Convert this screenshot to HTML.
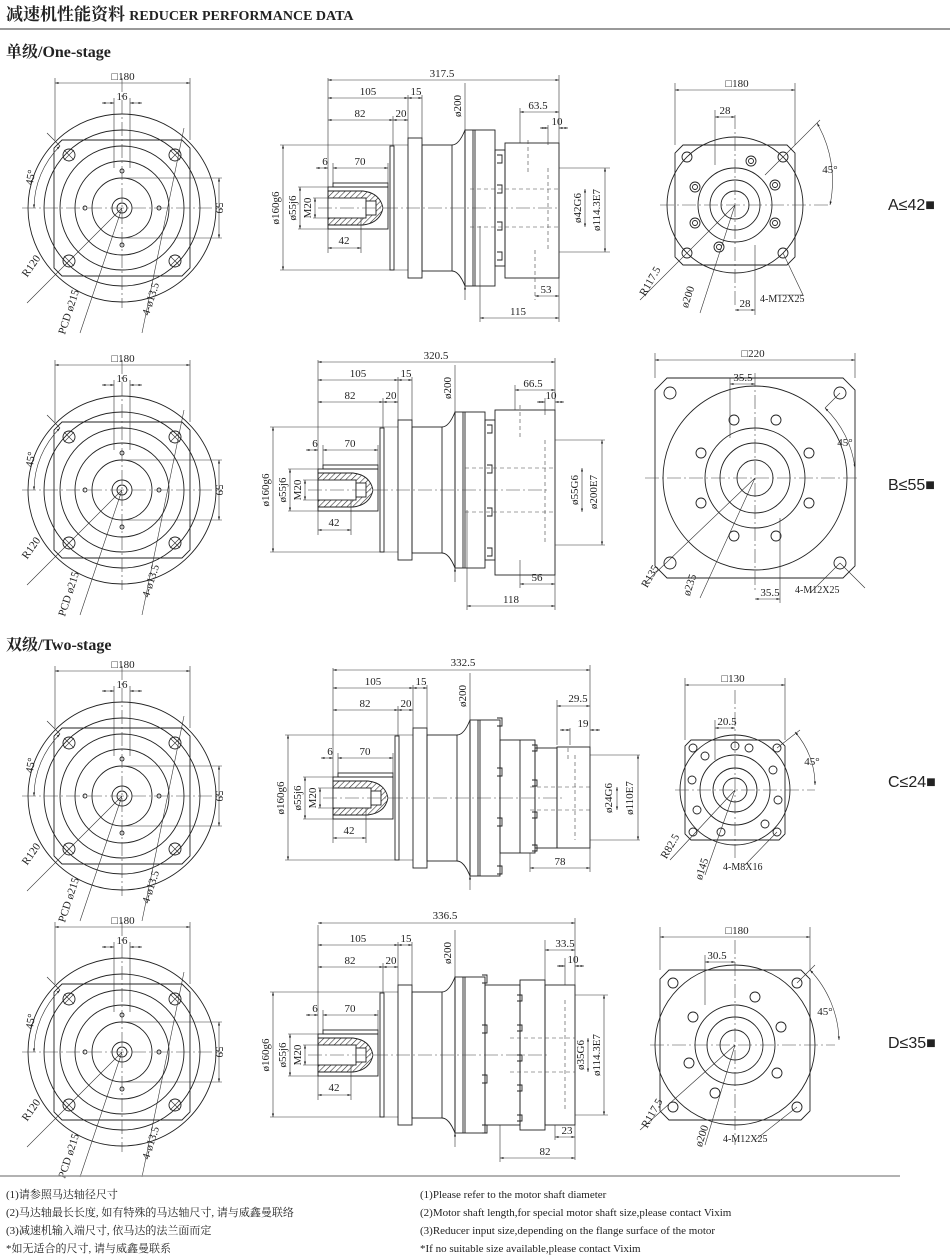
<!DOCTYPE html>
<html><head><meta charset="utf-8"><style>
html,body{margin:0;padding:0;background:#fff}
svg{display:block}
.l{stroke:#222;stroke-width:0.9;fill:none}
.c{stroke:#444;stroke-width:0.6;fill:none;stroke-dasharray:14 3 2 3}
.d{stroke:#444;stroke-width:0.6;fill:none;stroke-dasharray:4 3}
.m{stroke:#333;stroke-width:0.6;fill:none}
.dm{stroke:#333;stroke-width:0.6;fill:none;marker-start:url(#a);marker-end:url(#a)}
text{font-family:"Liberation Serif","Noto Serif CJK SC",serif;font-size:11px;fill:#222}
.t{font-size:11px;text-anchor:middle}
</style></head><body>
<svg width="950" height="1259" viewBox="0 0 950 1259" xmlns="http://www.w3.org/2000/svg">
<defs>
<marker id="a" viewBox="0 0 10 10" refX="10" refY="5" markerWidth="6" markerHeight="6" orient="auto-start-reverse"><path d="M0,2 L10,5 L0,8 z" fill="#222"/></marker>
<pattern id="h" width="4" height="4" patternUnits="userSpaceOnUse" patternTransform="rotate(45)"><line x1="0" y1="0" x2="0" y2="4" stroke="#333" stroke-width="1.2"/></pattern>
<g id="lv">
<path class="l" d="M-60,-68 L60,-68 L68,-60 L68,60 L60,68 L-60,68 L-68,60 L-68,-60 Z"/>
<circle class="l" r="94"/><circle class="l" r="78"/><circle class="l" r="62"/><circle class="l" r="47"/><circle class="l" r="30"/><circle class="l" r="10"/><circle class="l" r="5"/>
<g class="l"><circle cx="-53" cy="-53" r="6"/><circle cx="53" cy="-53" r="6"/><circle cx="-53" cy="53" r="6"/><circle cx="53" cy="53" r="6"/></g>
<g class="m"><path d="M-58,-58 l10,10 M-48,-58 l-10,10 M48,-58 l10,10 M58,-58 l-10,10 M-58,48 l10,10 M-48,48 l-10,10 M48,48 l10,10 M58,48 l-10,10"/></g>
<g class="l"><circle cx="0" cy="-37" r="2"/><circle cx="0" cy="37" r="2"/><circle cx="-37" cy="0" r="2"/><circle cx="37" cy="0" r="2"/></g>
<line class="c" x1="-100" y1="0" x2="100" y2="0"/><line class="c" x1="0" y1="-130" x2="0" y2="100"/>
<path class="m" d="M-67,-130 V-68 M68,-130 V-68 M-8,-110 V-40 M8,-110 V-40 M0,-30 H100 M0,30 H100"/>
<line class="dm" x1="-67" y1="-125" x2="68" y2="-125"/>
<line class="dm" x1="-20" y1="-105" x2="-8" y2="-105"/><line class="dm" x1="20" y1="-105" x2="8" y2="-105"/>
<line class="dm" x1="97" y1="-30" x2="97" y2="30"/>
<path class="m" d="M-88,0 A88,88 0 0 1 -62,-62" marker-start="url(#a)" marker-end="url(#a)"/>
<path class="m" d="M-62,-62 L-75,-75"/>
<path class="m" d="M0,0 L-95,95 M0,0 L-42,125 M62,-80 L20,125"/>
</g>
<g id="mv">
<path class="m" d="M-48,-63 H80 M-48,62 H80 M-30,-21 H0 M-30,21 H0 M-15,-10 H10 M-15,10 H10 M0,-130 V45 M5,-45 V-25 M60,-45 V-25 M33,10 V45 M80,-113 V-70 M94,-113 V-70 M65,-92 V-62 M137,-125 V-78"/>
<line class="dm" x1="-45" y1="-63" x2="-45" y2="62"/>
<line class="dm" x1="-28" y1="-21" x2="-28" y2="21"/>
<line class="dm" x1="-13" y1="-10" x2="-13" y2="10"/>
<rect class="l" x="0" y="-21" width="60" height="42"/>
<path d="M0,-17 L35,-17 Q52,-15 55,0 Q52,15 35,17 L0,17 Z" fill="url(#h)" stroke="#222" stroke-width="0.9"/>
<rect x="0" y="-10" width="38" height="20" fill="#fff" stroke="#222" stroke-width="0.9"/>
<rect x="38" y="-7" width="10" height="14" fill="#fff" stroke="#222" stroke-width="0.9"/>
<rect class="l" x="5" y="-25" width="55" height="4"/>
<line class="dm" x1="-12" y1="-40" x2="0" y2="-40"/><line class="dm" x1="5" y1="-40" x2="60" y2="-40"/>
<line class="dm" x1="0" y1="40" x2="33" y2="40"/>
<rect class="l" x="62" y="-62" width="4" height="124"/>
<rect class="l" x="80" y="-70" width="14" height="140"/>
<rect class="l" x="94" y="-63" width="30" height="126"/>
<path class="l" d="M124,-63 Q131,-63 137,-78 L137,78 Q131,63 124,63"/>
<rect class="l" x="137" y="-78" width="30" height="156"/>
<path class="l" d="M145,-78 V78 M147,-78 V78"/>
<line class="dm" x1="0" y1="-110" x2="80" y2="-110"/><line class="dm" x1="80" y1="-110" x2="94" y2="-110"/>
<line class="dm" x1="0" y1="-88" x2="65" y2="-88"/><line class="dm" x1="65" y1="-88" x2="80" y2="-88"/>
<line class="c" x1="-10" y1="0" x2="230" y2="0"/>
<line class="m" x1="137" y1="78" x2="137" y2="92" marker-start="url(#a)"/>
</g>
</defs>

<text x="6" y="20" style="font-size:17px;font-weight:bold;font-family:'Liberation Serif','Noto Serif CJK SC',serif">减速机性能资料 <tspan style="font-size:14px">REDUCER PERFORMANCE DATA</tspan></text>
<line x1="0" y1="29" x2="950" y2="29" stroke="#999" stroke-width="2"/>
<text x="6" y="57" style="font-size:16px;font-weight:bold">单级/One-stage</text>
<text x="6" y="650" style="font-size:16px;font-weight:bold">双级/Two-stage</text>

<!-- LEFT VIEWS -->
<g transform="translate(122,208)"><use href="#lv"/>
<text class="t" x="1" y="-128">□180</text><text class="t" x="0" y="-108">16</text>
<text class="t" transform="translate(-88,-30) rotate(-80)">45°</text>
<text class="t" transform="translate(94,0) rotate(90)">59</text>
<text class="t" transform="translate(-88,60) rotate(-55)">R120</text>
<text class="t" transform="translate(-50,105) rotate(-72)">PCD ø215</text>
<text class="t" transform="translate(32,92) rotate(-72)">4-ø13.5</text></g>
<g transform="translate(122,490)"><use href="#lv"/>
<text class="t" x="1" y="-128">□180</text><text class="t" x="0" y="-108">16</text>
<text class="t" transform="translate(-88,-30) rotate(-80)">45°</text>
<text class="t" transform="translate(94,0) rotate(90)">59</text>
<text class="t" transform="translate(-88,60) rotate(-55)">R120</text>
<text class="t" transform="translate(-50,105) rotate(-72)">PCD ø215</text>
<text class="t" transform="translate(32,92) rotate(-72)">4-ø13.5</text></g>
<g transform="translate(122,796)"><use href="#lv"/>
<text class="t" x="1" y="-128">□180</text><text class="t" x="0" y="-108">16</text>
<text class="t" transform="translate(-88,-30) rotate(-80)">45°</text>
<text class="t" transform="translate(94,0) rotate(90)">59</text>
<text class="t" transform="translate(-88,60) rotate(-55)">R120</text>
<text class="t" transform="translate(-50,105) rotate(-72)">PCD ø215</text>
<text class="t" transform="translate(32,92) rotate(-72)">4-ø13.5</text></g>
<g transform="translate(122,1052)"><use href="#lv"/>
<text class="t" x="1" y="-128">□180</text><text class="t" x="0" y="-108">16</text>
<text class="t" transform="translate(-88,-30) rotate(-80)">45°</text>
<text class="t" transform="translate(94,0) rotate(90)">59</text>
<text class="t" transform="translate(-88,60) rotate(-55)">R120</text>
<text class="t" transform="translate(-50,105) rotate(-72)">PCD ø215</text>
<text class="t" transform="translate(32,92) rotate(-72)">4-ø13.5</text></g>

<!-- MIDDLE VIEWS common -->
<g transform="translate(328,208)"><use href="#mv"/>
<text class="t" x="40" y="-113">105</text><text class="t" x="88" y="-113">15</text><text class="t" x="32" y="-91">82</text><text class="t" x="73" y="-91">20</text>
<text class="t" x="-3" y="-43">6</text><text class="t" x="32" y="-43">70</text><text class="t" x="16" y="36">42</text>
<text class="t" transform="translate(-49,0) rotate(-90)">ø160g6</text><text class="t" transform="translate(-32,0) rotate(-90)">ø55j6</text><text class="t" transform="translate(-17,0) rotate(-90)">M20</text>
<text class="t" transform="translate(133,-102) rotate(-90)">ø200</text></g>
<g transform="translate(318,490)"><use href="#mv"/>
<text class="t" x="40" y="-113">105</text><text class="t" x="88" y="-113">15</text><text class="t" x="32" y="-91">82</text><text class="t" x="73" y="-91">20</text>
<text class="t" x="-3" y="-43">6</text><text class="t" x="32" y="-43">70</text><text class="t" x="16" y="36">42</text>
<text class="t" transform="translate(-49,0) rotate(-90)">ø160g6</text><text class="t" transform="translate(-32,0) rotate(-90)">ø55j6</text><text class="t" transform="translate(-17,0) rotate(-90)">M20</text>
<text class="t" transform="translate(133,-102) rotate(-90)">ø200</text></g>
<g transform="translate(333,798)"><use href="#mv"/>
<text class="t" x="40" y="-113">105</text><text class="t" x="88" y="-113">15</text><text class="t" x="32" y="-91">82</text><text class="t" x="73" y="-91">20</text>
<text class="t" x="-3" y="-43">6</text><text class="t" x="32" y="-43">70</text><text class="t" x="16" y="36">42</text>
<text class="t" transform="translate(-49,0) rotate(-90)">ø160g6</text><text class="t" transform="translate(-32,0) rotate(-90)">ø55j6</text><text class="t" transform="translate(-17,0) rotate(-90)">M20</text>
<text class="t" transform="translate(133,-102) rotate(-90)">ø200</text></g>
<g transform="translate(318,1055)"><use href="#mv"/>
<text class="t" x="40" y="-113">105</text><text class="t" x="88" y="-113">15</text><text class="t" x="32" y="-91">82</text><text class="t" x="73" y="-91">20</text>
<text class="t" x="-3" y="-43">6</text><text class="t" x="32" y="-43">70</text><text class="t" x="16" y="36">42</text>
<text class="t" transform="translate(-49,0) rotate(-90)">ø160g6</text><text class="t" transform="translate(-32,0) rotate(-90)">ø55j6</text><text class="t" transform="translate(-17,0) rotate(-90)">M20</text>
<text class="t" transform="translate(133,-102) rotate(-90)">ø200</text></g>

<!-- Row1 middle specific -->
<g>
<line class="dm" x1="328" y1="80" x2="559" y2="80"/><text class="t" x="442" y="77">317.5</text>
<rect class="l" x="495" y="150" width="10" height="116"/>
<rect class="l" x="505" y="143" width="54" height="135"/>
<path class="l" d="M497,155 h5 v8 h-5 M497,185 h5 v8 h-5 M497,222 h5 v8 h-5 M497,252 h5 v8 h-5"/>
<path class="d" d="M470,189 H559 M470,227 H559 M548,168 V250 M528,140 V175 M535,250 V300"/>
<path class="m" d="M559,75 V322 M520,108 V143 M548,125 V145 M480,226 V322 M559,168 H610 M559,252 H610"/>
<line class="dm" x1="520" y1="112" x2="559" y2="112"/><text class="t" x="538" y="109">63.5</text>
<line class="dm" x1="540" y1="128" x2="548" y2="128"/><line class="dm" x1="568" y1="128" x2="559" y2="128"/><text class="t" x="557" y="125">10</text>
<line class="dm" x1="535" y1="296" x2="559" y2="296"/><text class="t" x="546" y="293">53</text>
<line class="dm" x1="480" y1="318" x2="559" y2="318"/><text class="t" x="518" y="315">115</text>
<line class="dm" x1="585" y1="189" x2="585" y2="227"/><line class="dm" x1="605" y1="168" x2="605" y2="252"/>
<text class="t" transform="translate(581,208) rotate(-90)">ø42G6</text><text class="t" transform="translate(600,210) rotate(-90)">ø114.3E7</text>
</g>
<!-- Row2 middle -->
<g>
<line class="dm" x1="318" y1="362" x2="555" y2="362"/><text class="t" x="436" y="359">320.5</text>
<rect class="l" x="485" y="420" width="10" height="140"/>
<rect class="l" x="495" y="410" width="60" height="165"/>
<path class="l" d="M487,425 h5 v8 h-5 M487,465 h5 v8 h-5 M487,508 h5 v8 h-5 M487,548 h5 v8 h-5"/>
<path class="d" d="M465,468 H555 M465,512 H555 M545,440 V545 M520,405 V440"/>
<path class="m" d="M555,358 V610 M515,385 V410 M545,398 V415 M520,560 V588 M467,510 V610 M555,440 H605 M555,545 H605"/>
<line class="dm" x1="515" y1="390" x2="555" y2="390"/><text class="t" x="533" y="387">66.5</text>
<line class="dm" x1="537" y1="402" x2="545" y2="402"/><line class="dm" x1="564" y1="402" x2="555" y2="402"/><text class="t" x="551" y="399">10</text>
<line class="dm" x1="520" y1="584" x2="555" y2="584"/><text class="t" x="537" y="581">56</text>
<line class="dm" x1="467" y1="606" x2="555" y2="606"/><text class="t" x="511" y="603">118</text>
<line class="dm" x1="582" y1="468" x2="582" y2="512"/><line class="dm" x1="602" y1="440" x2="602" y2="545"/>
<text class="t" transform="translate(578,490) rotate(-90)">ø55G6</text><text class="t" transform="translate(597,492) rotate(-90)">ø200E7</text>
</g>
<!-- Row3 middle -->
<g>
<line class="dm" x1="333" y1="670" x2="590" y2="670"/><text class="t" x="463" y="666">332.5</text>
<rect class="l" x="500" y="740" width="35" height="113"/>
<rect class="l" x="535" y="748" width="22" height="100"/>
<rect class="l" x="557" y="747" width="33" height="101"/>
<path class="l" d="M497,718 h5 v8 h-5 M497,768 h5 v8 h-5 M497,818 h5 v8 h-5 M497,866 h5 v8 h-5 M532,745 h5 v6 h-5 M532,780 h5 v6 h-5 M532,812 h5 v6 h-5 M532,845 h5 v6 h-5 M520,740 V853"/>
<path class="d" d="M530,787 H590 M530,810 H590 M575,755 V840 M568,748 V760"/>
<path class="m" d="M590,665 V872 M557,700 V745 M570,728 V745 M530,853 V872 M590,755 H640 M590,840 H640"/>
<line class="dm" x1="557" y1="706" x2="590" y2="706"/><text class="t" x="578" y="702">29.5</text>
<line class="dm" x1="560" y1="730" x2="570" y2="730"/><line class="dm" x1="600" y1="730" x2="590" y2="730"/><text class="t" x="583" y="727">19</text>
<line class="dm" x1="530" y1="868" x2="590" y2="868"/><text class="t" x="560" y="865">78</text>
<line class="dm" x1="617" y1="787" x2="617" y2="810"/><line class="dm" x1="638" y1="755" x2="638" y2="840"/>
<text class="t" transform="translate(612,798) rotate(-90)">ø24G6</text><text class="t" transform="translate(633,798) rotate(-90)">ø110E7</text>
</g>
<!-- Row4 middle -->
<g>
<line class="dm" x1="318" y1="923" x2="575" y2="923"/><text class="t" x="445" y="919">336.5</text>
<rect class="l" x="485" y="985" width="35" height="140"/>
<rect class="l" x="520" y="980" width="25" height="150"/>
<rect class="l" x="545" y="985" width="30" height="140"/>
<path class="l" d="M482,975 h5 v8 h-5 M482,1025 h5 v8 h-5 M482,1075 h5 v8 h-5 M482,1125 h5 v8 h-5 M517,995 h5 v6 h-5 M517,1025 h5 v6 h-5 M517,1055 h5 v6 h-5 M517,1085 h5 v6 h-5 M517,1115 h5 v6 h-5"/>
<path class="d" d="M510,1038 H575 M510,1072 H575 M565,1000 V1110"/>
<path class="m" d="M575,918 V1160 M545,940 V985 M565,958 V985 M555,1125 V1140 M500,1125 V1162 M575,995 H608 M575,1115 H608"/>
<line class="dm" x1="545" y1="950" x2="575" y2="950"/><text class="t" x="565" y="947">33.5</text>
<line class="dm" x1="557" y1="966" x2="565" y2="966"/><line class="dm" x1="584" y1="966" x2="575" y2="966"/><text class="t" x="573" y="963">10</text>
<line class="dm" x1="555" y1="1137" x2="575" y2="1137"/><text class="t" x="567" y="1134">23</text>
<line class="dm" x1="500" y1="1158" x2="575" y2="1158"/><text class="t" x="545" y="1155">82</text>
<line class="dm" x1="588" y1="1038" x2="588" y2="1072"/><line class="dm" x1="604" y1="995" x2="604" y2="1115"/>
<text class="t" transform="translate(584,1055) rotate(-90)">ø35G6</text><text class="t" transform="translate(600,1055) rotate(-90)">ø114.3E7</text>
</g>

<!-- RIGHT VIEWS -->
<g transform="translate(735,205)">
<path class="l" d="M-52,-60 L52,-60 L60,-52 L60,52 L52,60 L-52,60 L-60,52 L-60,-52 Z"/>
<circle class="l" r="68"/><circle class="l" r="37"/><circle class="l" r="25"/><circle class="l" r="14"/>
<g class="l"><circle cx="-48" cy="-48" r="5"/><circle cx="48" cy="-48" r="5"/><circle cx="-48" cy="48" r="5"/><circle cx="48" cy="48" r="5"/>
<circle cx="16" cy="-44" r="5"/><circle cx="40" cy="-20" r="5"/><circle cx="40" cy="18" r="5"/><circle cx="-16" cy="42" r="5"/><circle cx="-40" cy="18" r="5"/><circle cx="-40" cy="-18" r="5"/>
<circle cx="16" cy="-44" r="2.5"/><circle cx="40" cy="-20" r="2.5"/><circle cx="40" cy="18" r="2.5"/><circle cx="-16" cy="42" r="2.5"/><circle cx="-40" cy="18" r="2.5"/><circle cx="-40" cy="-18" r="2.5"/></g>
<line class="c" x1="-75" y1="0" x2="95" y2="0"/><line class="c" x1="0" y1="-90" x2="0" y2="100"/>
<path class="m" d="M-60,-122 V-60 M60,-122 V-60 M-20,-95 V-40 M20,40 V110 M0,0 L-95,95 M0,0 L-35,108 M48,48 L68,90 H40 M48,-48 L85,-85 M48,-48 L30,-30"/>
<line class="dm" x1="-60" y1="-115" x2="60" y2="-115"/>
<line class="dm" x1="-20" y1="-88" x2="0" y2="-88"/>
<line class="dm" x1="0" y1="105" x2="20" y2="105"/>
<path class="m" d="M82,-82 A116,116 0 0 1 95,0" marker-start="url(#a)" marker-end="url(#a)"/>
<text class="t" x="2" y="-118">□180</text><text class="t" x="-10" y="-91">28</text><text class="t" x="10" y="102">28</text>
<text class="t" x="95" y="-32">45°</text>
<text class="t" transform="translate(-82,78) rotate(-60)">R117.5</text>
<text class="t" transform="translate(-44,93) rotate(-72)">ø200</text>
<text x="25" y="97" style="font-size:10px">4-M12X25</text>
</g>
<g transform="translate(755,478)">
<path class="l" d="M-88,-100 L88,-100 L100,-88 L100,88 L88,100 L-88,100 L-100,88 L-100,-88 Z"/>
<circle class="l" r="92"/><circle class="l" r="50"/><circle class="l" r="35"/><circle class="l" r="18"/>
<g class="l"><circle cx="-85" cy="-85" r="6"/><circle cx="85" cy="-85" r="6"/><circle cx="-85" cy="85" r="6"/><circle cx="85" cy="85" r="6"/>
<circle cx="21" cy="-58" r="5"/><circle cx="54" cy="-25" r="5"/><circle cx="54" cy="25" r="5"/><circle cx="-21" cy="58" r="5"/><circle cx="-54" cy="25" r="5"/><circle cx="-54" cy="-25" r="5"/><circle cx="21" cy="58" r="5"/><circle cx="-21" cy="-58" r="5"/></g>
<line class="c" x1="-110" y1="0" x2="105" y2="0"/><line class="c" x1="0" y1="-105" x2="0" y2="115"/>
<path class="m" d="M-100,-125 V-100 M100,-125 V-100 M-25,-100 V-40 M25,40 V125 M0,0 L-110,105 M0,0 L-55,120 M85,85 L55,115 M85,85 L110,110 M85,-85 L70,-70"/>
<line class="dm" x1="-100" y1="-118" x2="100" y2="-118"/>
<line class="dm" x1="-25" y1="-94" x2="0" y2="-94"/>
<line class="dm" x1="0" y1="121" x2="25" y2="121"/>
<path class="m" d="M70,-70 A100,100 0 0 1 100,-10" marker-start="url(#a)" marker-end="url(#a)"/>
<text class="t" x="-2" y="-121">□220</text><text class="t" x="-12" y="-97">35.5</text><text class="t" x="15" y="118">35.5</text>
<text class="t" x="90" y="-32">45°</text>
<text class="t" transform="translate(-102,100) rotate(-60)">R135</text>
<text class="t" transform="translate(-62,108) rotate(-72)">ø235</text>
<text x="40" y="115" style="font-size:10px">4-M12X25</text>
</g>
<g transform="translate(735,790)">
<path class="l" d="M-44,-50 L44,-50 L50,-44 L50,44 L44,50 L-44,50 L-50,44 L-50,-44 Z"/>
<circle class="l" r="55"/><circle class="l" r="35"/><circle class="l" r="22"/><circle class="l" r="12"/>
<g class="l"><circle cx="-42" cy="-42" r="4"/><circle cx="42" cy="-42" r="4"/><circle cx="-42" cy="42" r="4"/><circle cx="42" cy="42" r="4"/>
<circle cx="14" cy="-42" r="4"/><circle cx="38" cy="-20" r="4"/><circle cx="43" cy="10" r="4"/><circle cx="30" cy="34" r="4"/><circle cx="-14" cy="42" r="4"/><circle cx="-38" cy="20" r="4"/><circle cx="-43" cy="-10" r="4"/><circle cx="-30" cy="-34" r="4"/><circle cx="0" cy="-44" r="4"/></g>
<line class="c" x1="-60" y1="0" x2="80" y2="0"/><line class="c" x1="0" y1="-100" x2="0" y2="70"/>
<path class="m" d="M-50,-112 V-50 M50,-112 V-50 M-20,-70 V-30 M0,0 L-65,70 M0,0 L-30,85 M42,42 L10,75 M42,-42 L65,-60"/>
<line class="dm" x1="-50" y1="-105" x2="50" y2="-105"/>
<line class="dm" x1="-20" y1="-62" x2="0" y2="-62"/>
<path class="m" d="M60,-58 A80,80 0 0 1 80,-5" marker-start="url(#a)" marker-end="url(#a)"/>
<text class="t" x="-2" y="-108">□130</text><text class="t" x="-8" y="-65">20.5</text>
<text class="t" x="77" y="-25">45°</text>
<text class="t" transform="translate(-62,58) rotate(-60)">R82.5</text>
<text class="t" transform="translate(-30,80) rotate(-72)">ø145</text>
<text x="-12" y="80" style="font-size:10px">4-M8X16</text>
</g>
<g transform="translate(735,1045)">
<path class="l" d="M-66,-75 L66,-75 L75,-66 L75,66 L66,75 L-66,75 L-75,66 L-75,-66 Z"/>
<circle class="l" r="80"/><circle class="l" r="40"/><circle class="l" r="28"/><circle class="l" r="15"/>
<g class="l"><circle cx="-62" cy="-62" r="5"/><circle cx="62" cy="-62" r="5"/><circle cx="-62" cy="62" r="5"/><circle cx="62" cy="62" r="5"/>
<circle cx="20" cy="-48" r="5"/><circle cx="46" cy="-18" r="5"/><circle cx="42" cy="28" r="5"/><circle cx="-20" cy="48" r="5"/><circle cx="-46" cy="18" r="5"/><circle cx="-42" cy="-28" r="5"/></g>
<line class="c" x1="-85" y1="0" x2="100" y2="0"/><line class="c" x1="0" y1="-105" x2="0" y2="100"/>
<path class="m" d="M-75,-118 V-75 M75,-118 V-75 M-30,-90 V-40 M0,0 L-95,85 M0,0 L-30,100 M62,62 L20,95 M62,-62 L80,-80"/>
<line class="dm" x1="-75" y1="-108" x2="75" y2="-108"/>
<line class="dm" x1="-30" y1="-83" x2="0" y2="-83"/>
<path class="m" d="M75,-75 A106,106 0 0 1 104,-5" marker-start="url(#a)" marker-end="url(#a)"/>
<text class="t" x="2" y="-111">□180</text><text class="t" x="-18" y="-86">30.5</text>
<text class="t" x="90" y="-30">45°</text>
<text class="t" transform="translate(-80,70) rotate(-60)">R117.5</text>
<text class="t" transform="translate(-30,92) rotate(-72)">ø200</text>
<text x="-12" y="97" style="font-size:10px">4-M12X25</text>
</g>

<g style="font-family:'Liberation Sans','Noto Sans CJK SC',sans-serif;font-size:16px;fill:#333">
<text x="888" y="210" style="font-family:'Liberation Sans',sans-serif;font-size:16px">A≤42■</text>
<text x="888" y="490" style="font-family:'Liberation Sans',sans-serif;font-size:16px">B≤55■</text>
<text x="888" y="787" style="font-family:'Liberation Sans',sans-serif;font-size:16px">C≤24■</text>
<text x="888" y="1048" style="font-family:'Liberation Sans',sans-serif;font-size:16px">D≤35■</text>
</g>

<line x1="0" y1="1176" x2="900" y2="1176" stroke="#999" stroke-width="1.5"/>
<g style="font-size:11.5px">
<text x="6" y="1198">(1)请参照马达轴径尺寸</text>
<text x="6" y="1216">(2)马达轴最长长度, 如有特殊的马达轴尺寸, 请与威鑫曼联络</text>
<text x="6" y="1234">(3)减速机输入端尺寸, 依马达的法兰面而定</text>
<text x="6" y="1252">*如无适合的尺寸, 请与威鑫曼联系</text>
<text x="420" y="1198">(1)Please refer to the motor shaft diameter</text>
<text x="420" y="1216">(2)Motor shaft length,for special motor shaft size,please contact Vixim</text>
<text x="420" y="1234">(3)Reducer input size,depending on the flange surface of the motor</text>
<text x="420" y="1252">*If no suitable size available,please contact Vixim</text>
</g>
</svg>
</body></html>
